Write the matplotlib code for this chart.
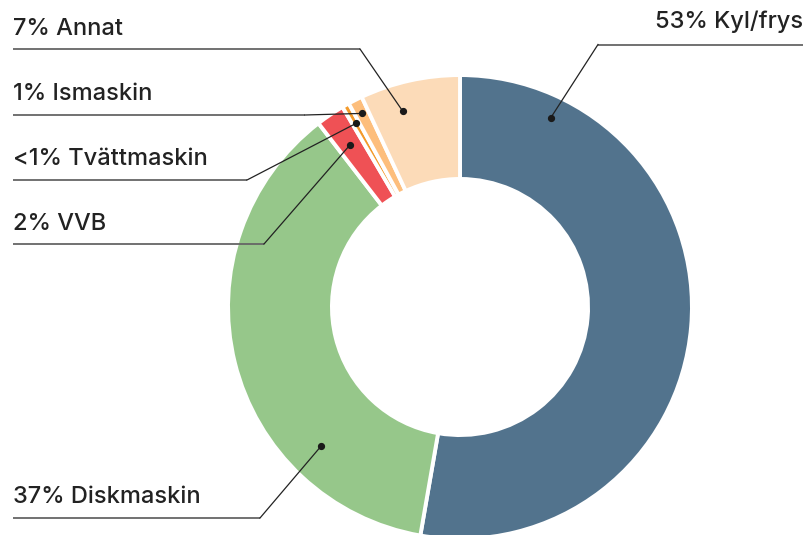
import matplotlib
matplotlib.use("Agg")
import matplotlib.pyplot as plt
import numpy as np

# Energy share per appliance (percent)
categories = ["Kyl/frys", "Diskmaskin", "VVB", "Tvättmaskin", "Ismaskin", "Annat"]
values = [53, 37, 2, 0.5, 1, 7]
labels = ["53% Kyl/frys", "37% Diskmaskin", "2% VVB", "<1% Tvättmaskin", "1% Ismaskin", "7% Annat"]
colors = ["#52738d", "#96c78a", "#ef5155", "#f39a2b", "#fdbe7c", "#fcdbb8"]

W, H = 810, 535
fig = plt.figure(figsize=(W / 100, H / 100), dpi=100)
ax = fig.add_axes([0, 0, 1, 1])

cx, cy = 460, H - 307
r_out, r_in = 230, 130
lw = 2.8  # white separator between wedges (pt)
pad = lw * 100 / 72 / 2

wedges, _ = ax.pie(values, colors=colors, startangle=90, counterclock=False,
                   center=(cx, cy), radius=r_out + pad,
                   wedgeprops=dict(width=r_out - r_in + 2 * pad, edgecolor="white",
                                   linewidth=lw, joinstyle="miter"))
ax.set_xlim(0, W)
ax.set_ylim(0, H)
ax.set_aspect("equal")
ax.axis("off")

# Leader anchors: position along the wedge (0 = clockwise start) and radius
anchor_frac = [0.135, 0.265, 0.5, 0.5, 0.5, 0.35]
anchor_rad = [210, 196, 196, 211, 217, 204]

# Label layout: text x, baseline y, underline y, elbow x (pixel rows from top)
text_x = [803, 13, 13, 13, 13, 13]
base_y = [28, 503, 230, 165, 100, 35]
line_y = [44.5, 518, 244, 180, 115, 49]
elbow_x = [598, 260, 264, 247, 305, 360]
line_end = [803, 13, 13, 13, 13, 13]

for i, w in enumerate(wedges):
    t1, t2 = w.theta1, w.theta2
    ang = np.deg2rad(t2 - anchor_frac[i] * (t2 - t1))
    px = cx + anchor_rad[i] * np.cos(ang)
    py = cy + anchor_rad[i] * np.sin(ang)
    ly = H - line_y[i]
    ax.plot([line_end[i], elbow_x[i]], [ly, ly], color="#666666", lw=1.3,
            solid_capstyle="butt", zorder=3)
    ax.plot([elbow_x[i], px], [ly, py], color="#222222", lw=0.9, zorder=3)
    ax.plot(px, py, "o", color="#1a1a1a", ms=4.2, zorder=4)
    ha = "right" if i == 0 else "left"
    ax.text(text_x[i], H - base_y[i], labels[i], ha=ha, va="baseline",
            fontsize=17, fontweight="medium", color="#222222",
            family=["Inter", "DejaVu Sans"])

fig.savefig("out.png", dpi=100)
